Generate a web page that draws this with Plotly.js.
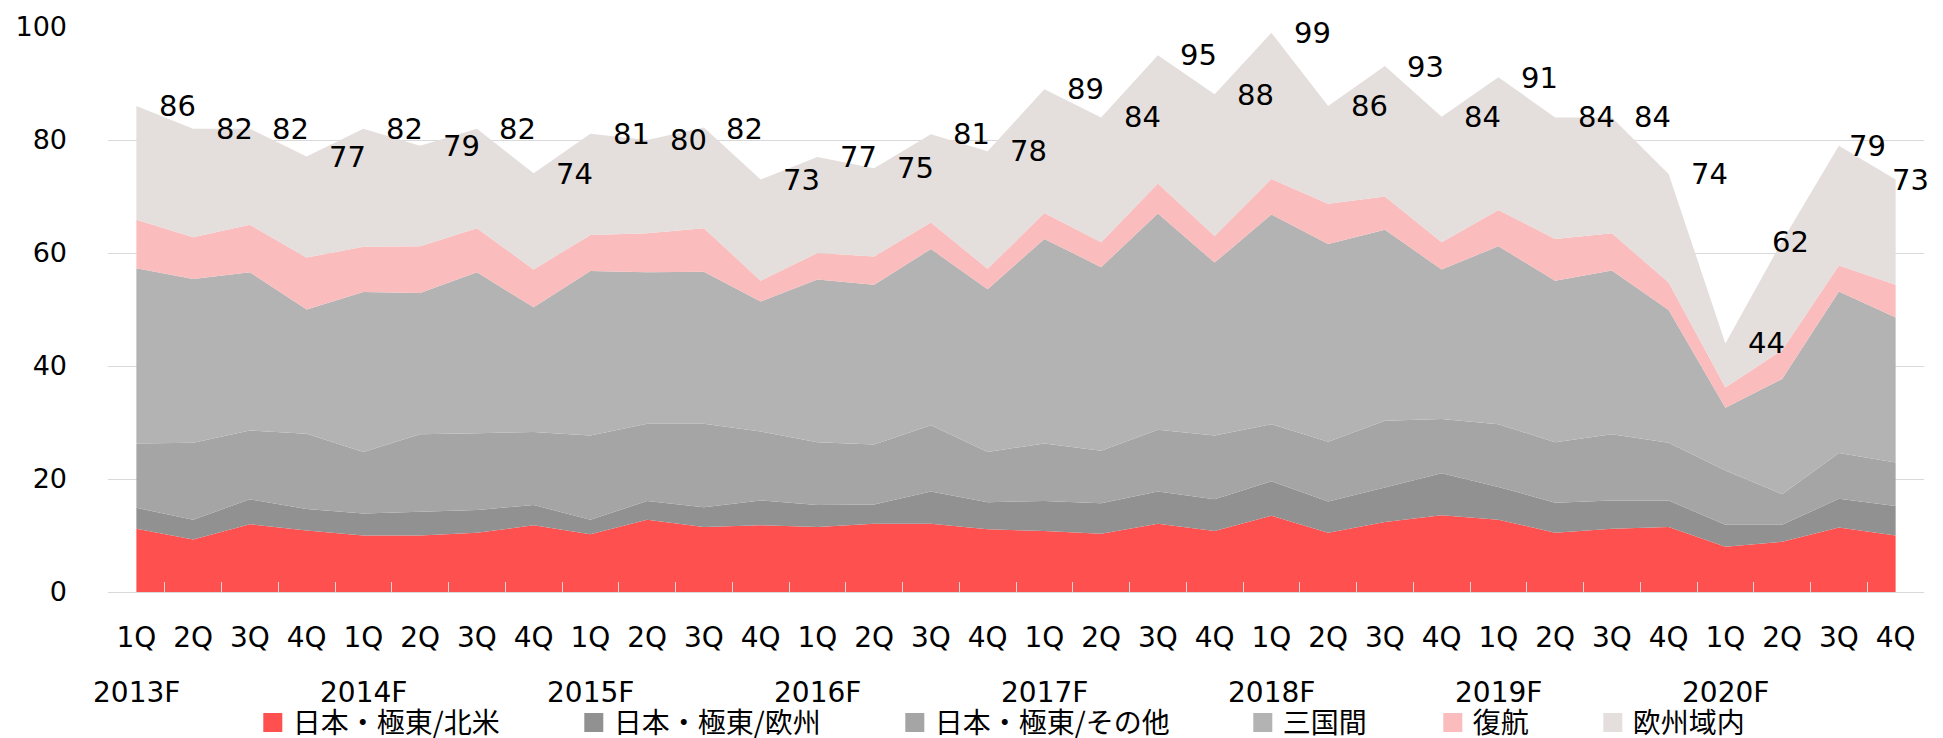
<!DOCTYPE html>
<html><head><meta charset="utf-8">
<script src="https://cdn.plot.ly/plotly-3.0.1.min.js"></script>
<style>html,body{margin:0;padding:0;background:#fff}#chart{width:1943px;height:738px}</style>
</head><body><div id="chart"></div>
<script>
// ---- data ----
const years = ['2013F','2014F','2015F','2016F','2017F','2018F','2019F','2020F'];
const quarters = ['1Q','2Q','3Q','4Q','1Q','2Q','3Q','4Q','1Q','2Q','3Q','4Q','1Q','2Q','3Q','4Q',
                  '1Q','2Q','3Q','4Q','1Q','2Q','3Q','4Q','1Q','2Q','3Q','4Q','1Q','2Q','3Q','4Q'];
const seriesNames = ['日本・極東/北米','日本・極東/欧州','日本・極東/その他','三国間','復航','欧州域内'];
const northAmerica = [11.2,9.3,12.0,10.9,10.0,10.0,10.5,11.8,10.2,12.8,11.5,11.8,11.5,12.1,12.1,11.1,
                      10.8,10.3,12.1,10.8,13.5,10.5,12.4,13.6,12.8,10.5,11.2,11.5,8.0,8.9,11.4,10.0];
const europe = [3.7,3.5,4.4,3.8,3.9,4.2,4.0,3.6,2.6,3.3,3.5,4.4,3.9,3.4,5.7,4.8,
                5.3,5.4,5.7,5.6,6.1,5.5,6.1,7.4,5.8,5.3,5.0,4.7,3.9,3.0,5.1,5.2];
const otherAsia = [11.4,13.6,12.2,13.3,10.9,13.7,13.6,12.9,14.9,13.7,14.8,12.2,11.1,10.6,11.7,8.9,
                   10.2,9.3,10.9,11.3,10.1,10.6,11.8,9.6,11.1,10.7,11.7,10.2,9.6,5.4,8.1,7.7];
const crossTrade = [31.0,29.0,28.0,22.0,28.3,25.0,28.5,22.1,29.1,26.8,26.9,23.0,28.8,28.3,31.2,28.8,
                    36.2,32.5,38.3,30.6,37.1,35.0,33.8,26.5,31.5,28.6,29.0,23.5,11.1,20.4,28.6,25.7];
const returnLeg = [8.6,7.4,8.4,9.2,8.0,8.3,7.8,6.7,6.4,6.9,7.7,3.7,4.7,5.0,4.7,3.6,
                   4.6,4.4,5.3,4.7,6.3,7.1,5.9,4.8,6.4,7.4,6.6,4.9,3.6,5.1,4.6,5.8];
const intraEurope = [20.1,19.2,17.0,17.9,20.9,17.8,17.6,17.0,17.9,16.5,17.8,17.9,17.0,15.6,15.6,20.8,
                     21.9,22.1,22.7,25.1,25.9,17.3,23.1,22.2,23.5,21.5,20.5,19.2,7.8,19.3,21.2,18.6];
const totals = [86,82,82,77,82,79,82,74,81,80,82,73,77,75,81,78,
                89,84,95,88,99,86,93,84,91,84,84,74,44,62,79,73];

// ---- styling ----
const colors = ['#FF5050','#919191','#A5A5A5','#B3B3B3','#FABCBC','#E4DEDD'];
const legendWidths = [276,276,303,145,115,125];
const labelShift = {29:-12, 30:8, 31:-6};

const cats = quarters.map((q,i)=> years[Math.floor(i/4)] + ' ' + q);
const values = [northAmerica, europe, otherAsia, crossTrade, returnLeg, intraEurope];

const traces = [];
values.forEach((v,k)=>{
  traces.push({type:'scatter', x:cats, y:v, stackgroup:'one', mode:'none',
    fillcolor:colors[k], line:{width:0}, name:seriesNames[k], showlegend:false, hoverinfo:'skip'});
});
values.forEach((v,k)=>{
  traces.push({type:'scatter', x:[null], y:[null], mode:'markers', name:seriesNames[k],
    marker:{symbol:'square', size:16, color:colors[k], line:{width:3, color:colors[k]}},
    legendwidth:legendWidths[k], showlegend:true});
});

const annotations = [];
totals.forEach((t,i)=>{
  annotations.push({x:cats[i], y:t, xref:'x', yref:'y', text:String(t), showarrow:false,
    xanchor:'left', yanchor:'middle', xshift:(i in labelShift ? labelShift[i] : 20.5),
    font:{family:'DejaVu Sans', size:29, color:'#000'}});
});
years.forEach((yr,j)=>{
  annotations.push({x:cats[j*4], y:-0.178, xref:'x', yref:'paper', text:yr, showarrow:false,
    xanchor:'center', yanchor:'middle', font:{family:'DejaVu Sans', size:28, color:'#000'}});
});

const layout = {
  width:1943, height:738,
  margin:{l:108, r:19, t:27, b:146, pad:0},
  paper_bgcolor:'#ffffff', plot_bgcolor:'#ffffff',
  hovermode:false, showlegend:true,
  font:{family:'DejaVu Sans, sans-serif', color:'#000'},
  xaxis:{type:'category', range:[-0.5,31.5], tickson:'boundaries', ticks:'inside', ticklen:10,
    tickwidth:1, tickcolor:'#D9D9D9', showline:true, linecolor:'#D9D9D9', linewidth:1,
    showgrid:false, zeroline:false, tickmode:'array', tickvals:cats, ticktext:quarters, tickangle:0,
    tickfont:{family:'DejaVu Sans', size:28, color:'#000'}, ticklabelstandoff:20, layer:'above traces'},
  yaxis:{range:[0,100], tick0:0, dtick:20, showgrid:true, gridcolor:'#D9D9D9', gridwidth:1,
    zeroline:false, showline:false, ticks:'', tickfont:{family:'DejaVu Sans', size:27, color:'#000'},
    ticklabelstandoff:40},
  legend:{orientation:'h', xref:'container', yref:'container', x:252.8/1943, xanchor:'left',
    y:0.0545, yanchor:'top', traceorder:'normal', bgcolor:'rgba(0,0,0,0)', borderwidth:0,
    font:{family:'Noto Sans CJK JP', size:28, color:'#000'}},
  annotations:annotations
};

Plotly.newPlot('chart', traces, layout, {staticPlot:true, displayModeBar:false});
</script>
</body></html>
